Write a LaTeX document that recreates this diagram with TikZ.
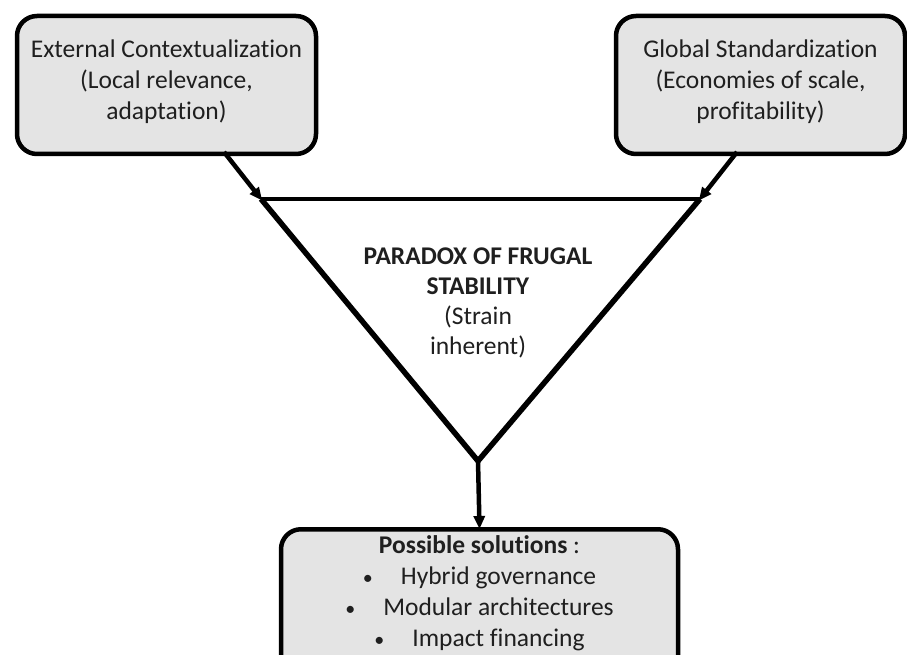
\documentclass[tikz,border=0pt]{standalone}
\usepackage{fontspec}
\setmainfont[Ligatures=NoCommon]{Carlito}
\usetikzlibrary{arrows.meta}
\definecolor{boxfill}{HTML}{E4E4E4}
\tikzset{
  x=1pt, y=-1pt,
  box/.style={draw=black, line width=4.5pt, fill=boxfill, rounded corners=20pt, inner sep=0pt},
  txt/.style={align=center, font=\fontsize{25.5}{31}\selectfont, inner sep=0pt, text=black!88},
  conn/.style={line width=4.5pt, -{Triangle[length=13pt,width=11pt]}, shorten >=-2pt},
  tri/.style={line width=5.5pt, line join=miter},
}
\newcommand{\mybul}{{\fontsize{20}{31}\selectfont\textbullet}\hspace{1.1em}}
\begin{document}
\begin{tikzpicture}
\useasboundingbox (0,0) rectangle (907,655);
\begin{scope}
\clip (0,0) rectangle (907,655);
% boxes
\node (lb) [box, minimum width=299pt, minimum height=138pt] at (166.5,85) {};
\node (rb) [box, minimum width=289pt, minimum height=138pt] at (760.5,85) {};
\node (sol) [box, minimum width=397pt, minimum height=200pt, anchor=north] at (479.5,527) {};
\end{scope}
% texts
\node (lbt) [txt] at (166.5,82) {External Contextualization\\(Local relevance,\\adaptation)};
\node (rbt) [txt] at (760.5,82) {Global Standardization\\(Economies of scale,\\profitability)};
\node (solt) [txt] at (479.5,593) {\textbf{Possible solutions} :\\\mybul Hybrid governance\\\mybul Modular architectures\\\mybul Impact financing};
\node (par) [txt, font=\fontsize{25.5}{30}\selectfont] at (478,303) {\textbf{PARADOX OF FRUGAL}\\\textbf{STABILITY}\\(Strain\\inherent)};
% triangle
\coordinate (tl) at (261,199);
\coordinate (tr) at (700,199);
\coordinate (ap) at (478,461);
\coordinate (ls) at (224,152);
\coordinate (rs) at (737,152);
\draw[line width=3.5pt] (tl) -- (tr);
\draw[tri] (tl) -- (ap) -- (tr);
% connectors
\draw[conn] (ls) -- (tl);
\draw[conn] (rs) -- (tr);
\draw[conn] (ap) -- (sol.north);
\end{tikzpicture}
\end{document}
